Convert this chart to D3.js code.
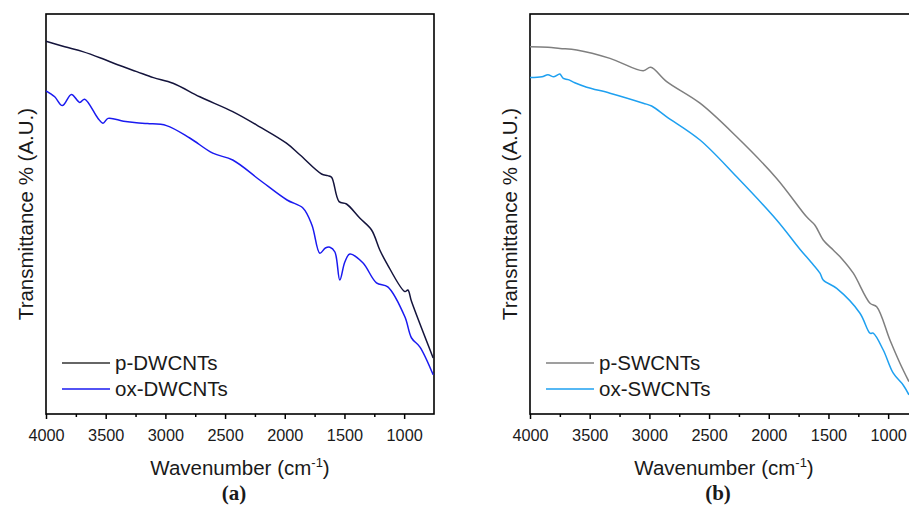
<!DOCTYPE html>
<meta charset="utf-8">
<style>
  body { margin: 0; background: #fff; }
  svg text { font-family: "Liberation Sans", Arial, sans-serif; fill: #1a1a1a; }
</style>
<svg width="909" height="506"></svg>
<script src="https://d3js.org/d3.v7.min.js"></script>
<script>

// wavenumber (cm-1) / transmittance (arbitrary units, 0..100)
var pDW_wave = [4000, 3843, 3692, 3525, 3400, 3240, 3100, 2936, 2712, 2436, 2210, 1986, 1874, 1692, 1640, 1608, 1545, 1483, 1372, 1273, 1204, 1148, 994, 969, 938, 757],
    pDW_val  = [93.2, 91.8, 90.6, 88.8, 87.3, 85.6, 84.1, 82.7, 79.3, 75.6, 71.8, 67.7, 64.8, 60.0, 59.6, 59.2, 53.1, 52.5, 49.0, 46.0, 41.0, 37.8, 30.6, 31.0, 28.1, 14.0];

var oxDW_wave = [4000, 3927, 3863, 3787, 3718, 3676, 3564, 3522, 3480, 3350, 3242, 3150, 2991, 2796, 2603, 2436, 2210, 1981, 1848, 1772, 1706, 1660, 1622, 1580, 1539, 1497, 1455, 1346, 1232, 1137, 994, 938, 869, 757],
    oxDW_val  = [80.8, 79.3, 77.1, 79.9, 77.9, 78.7, 73.9, 72.7, 73.9, 73.2, 72.8, 72.6, 72.1, 69.0, 65.2, 63.5, 58.5, 53.5, 51.5, 47.2, 40.2, 41.5, 41.7, 40.5, 33.5, 38.0, 40.0, 37.8, 32.8, 31.8, 24.3, 19.0, 16.8, 9.8];

var pSW_wave = [4000, 3850, 3749, 3609, 3330, 3051, 2989, 2855, 2576, 2269, 1934, 1683, 1613, 1544, 1460, 1390, 1292, 1152, 1096, 985, 901, 826],
    pSW_val  = [91.8, 91.7, 91.4, 91.0, 88.9, 85.8, 86.7, 83.1, 77.7, 69.3, 58.9, 49.3, 47.2, 43.5, 41.0, 38.9, 35.2, 27.7, 26.8, 18.5, 12.7, 8.1];

var oxSW_wave = [4000, 3900, 3850, 3800, 3760, 3749, 3721, 3680, 3625, 3525, 3330, 3051, 2981, 2855, 2576, 2269, 1934, 1739, 1647, 1571, 1544, 1431, 1236, 1152, 1125, 1041, 957, 873, 826],
    oxSW_val  = [84.1, 84.3, 84.8, 84.3, 84.9, 85.0, 83.9, 83.6, 82.8, 81.7, 80.2, 77.7, 77.0, 74.3, 68.5, 59.3, 48.5, 41.2, 38.0, 35.2, 33.5, 31.4, 25.2, 20.2, 20.2, 16.0, 10.2, 7.2, 4.8];

var xTicks = [4000, 3500, 3000, 2500, 2000, 1500, 1000],
    xMinor = [3750, 3250, 2750, 2250, 1750, 1250];

var svg = d3.select("svg");

function zip(w, v) { return w.map(function(d, i) { return { w: d, v: v[i] }; }); }

function drawPanel(left, series, names, colors, legendColors, tag) {
  var top = 14, w = 388, h = 400;
  var x = d3.scaleLinear().domain([4000, 750]).range([left, left + w]),
      y = d3.scaleLinear().domain([0, 100]).range([top + h, top]);

  var g = svg.append("g");

  // minor ticks
  g.append("g").attr("transform", "translate(0," + (top + h) + ")")
    .call(d3.axisBottom(x).tickValues(xMinor).tickSize(3).tickFormat(""))
    .call(function(s) { s.select(".domain").remove(); s.selectAll("line").attr("stroke-width", 1.5); });

  var ax = g.append("g").attr("transform", "translate(0," + (top + h) + ")")
    .call(d3.axisBottom(x).tickValues(xTicks).tickSize(5).tickSizeOuter(0).tickPadding(10).tickFormat(d3.format("d")));
  ax.select(".domain").remove();
  ax.selectAll("line").attr("stroke-width", 1.5);
  ax.selectAll("text").style("font-size", "16.3px").style("fill", "#1a1a1a");

  // frame
  g.append("rect").attr("x", left).attr("y", top).attr("width", w).attr("height", h)
    .attr("fill", "none").attr("stroke", "#000").attr("stroke-width", 1.6);

  var line = d3.line().x(function(d) { return x(d.w); }).y(function(d) { return y(d.v); })
    .curve(d3.curveCatmullRom.alpha(0.5));

  series.forEach(function(s, i) {
    g.append("path").datum(s).attr("d", line).attr("fill", "none")
      .attr("stroke", colors[i]).attr("stroke-width", 1.5);
  });

  // legend
  names.forEach(function(n, i) {
    var ly = 363 + i * 26;
    g.append("line").attr("x1", left + 16).attr("x2", left + 64).attr("y1", ly).attr("y2", ly)
      .attr("stroke", legendColors[i]).attr("stroke-width", 1.6);
    g.append("text").attr("x", left + 69).attr("y", ly).attr("dy", "0.35em")
      .style("font-size", "20.5px").text(n);
  });

  g.append("text").attr("x", left + 194).attr("y", 468)
    .attr("text-anchor", "middle").attr("dy", "0.35em").style("font-size", "20.5px")
    .html("Wavenumber (cm<tspan dy='-8' style='font-size:13px'>-1</tspan><tspan dy='8'>)</tspan>");

  g.append("text").attr("transform", "translate(" + (left - 20) + "," + (top + h / 2) + ") rotate(-90)")
    .attr("text-anchor", "middle").attr("dy", "0.35em").style("font-size", "20.5px")
    .text("Transmittance % (A.U.)");

  g.append("text").attr("x", left + 188).attr("y", 493).attr("text-anchor", "middle").attr("dy", "0.35em")
    .style("font-family", "'Liberation Serif', 'DejaVu Serif', serif").style("font-weight", "bold")
    .style("font-size", "21px").text(tag);
}

drawPanel(46, [zip(pDW_wave, pDW_val), zip(oxDW_wave, oxDW_val)], ["p-DWCNTs", "ox-DWCNTs"],
  ["#14143c", "#1a1af0"], ["#333", "#1a1af0"], "(a)");
drawPanel(530, [zip(pSW_wave, pSW_val), zip(oxSW_wave, oxSW_val)], ["p-SWCNTs", "ox-SWCNTs"],
  ["#7f7f7f", "#1ea0f0"], ["#7f7f7f", "#1ea0f0"], "(b)");

</script>
